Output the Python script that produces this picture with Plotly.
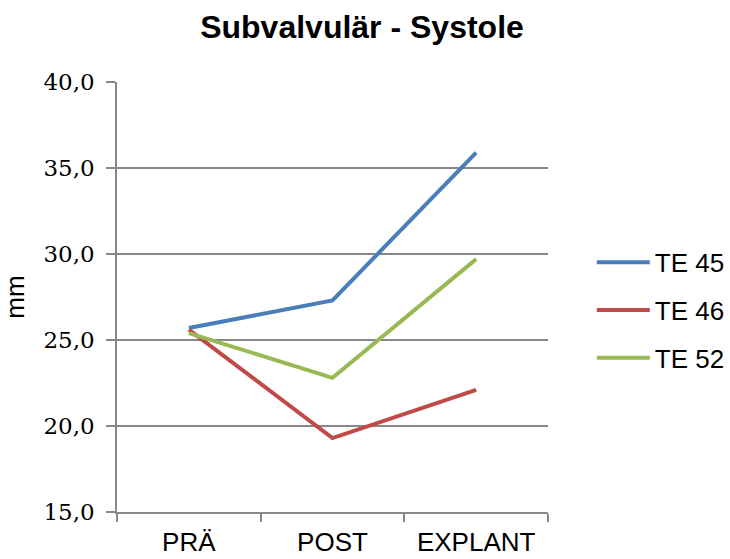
import plotly.graph_objects as go

categories = ["PRÄ", "POST", "EXPLANT"]
series_names = ["TE 45", "TE 46", "TE 52"]
te45 = [25.7, 27.3, 35.9]
te46 = [25.6, 19.3, 22.1]
te52 = [25.4, 22.8, 29.7]
y_ticks = [15, 20, 25, 30, 35, 40]
y_tick_labels = ["15,0", "20,0", "25,0", "30,0", "35,0", "40,0"]

colors = ["#4A7EBB", "#BE4B48", "#98B954"]

W, H = 730, 559

fig = go.Figure()
for name, vals, col in zip(series_names, [te45, te46, te52], colors):
    fig.add_trace(go.Scatter(
        x=categories, y=vals, name=name, mode="lines",
        line=dict(color=col, width=4), legendgroup=name,
    ))

fig.update_layout(
    width=W, height=H,
    margin=dict(l=117, r=W - 548, t=82, b=H - 512, autoexpand=False),
    paper_bgcolor="white", plot_bgcolor="white",
    title=dict(text="<b>Subvalvulär - Systole</b>", x=362 / W, xanchor="center",
               y=1 - 27 / H, yanchor="middle",
               font=dict(family="Liberation Sans, Arial", size=32, color="black")),
    font=dict(family="Liberation Sans, Arial", size=26, color="black"),
    legend=dict(x=1.1016, xanchor="left", y=0.469, yanchor="middle",
                font=dict(size=26), tracegroupgap=11, itemwidth=53,
                bgcolor="rgba(0,0,0,0)"),
    xaxis=dict(type="category", range=[-0.5, 2.5], showgrid=False, automargin=False,
               showline=True, linecolor="#888888", linewidth=1.5,
               ticks="outside", tickson="boundaries", ticklen=8,
               tickcolor="#888888", tickwidth=1.5, ticklabelstandoff=6,
               tickfont=dict(family="Liberation Sans, Arial", size=26)),
    yaxis=dict(range=[15, 40], tickvals=y_ticks, ticktext=y_tick_labels, automargin=False,
               showgrid=True, gridcolor="#888888", gridwidth=1.5,
               showline=True, linecolor="#888888", linewidth=1.5,
               ticks="outside", ticklen=9, tickcolor="#888888", tickwidth=1.5,
               zeroline=False, ticklabelstandoff=7,
               tickfont=dict(family="DejaVu Serif", size=23),
               title=dict(text="mm", font=dict(family="Liberation Sans, Arial", size=26),
                          standoff=14)),
)

fig.write_html(
    "out.html",
    config={"displayModeBar": False},
    post_script="document.body.style.margin='0';document.body.style.overflow='hidden';",
)
